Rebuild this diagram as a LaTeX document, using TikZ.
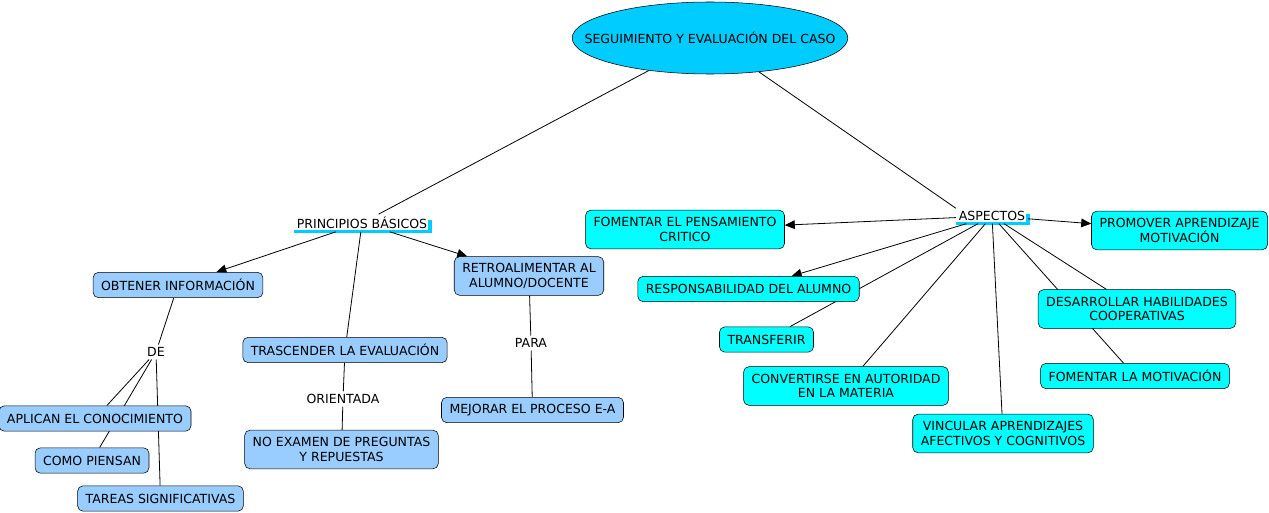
\documentclass[tikz,border=0pt]{standalone}
\usepackage{fontspec}
\setmainfont{DejaVu Sans}
\definecolor{cmaptop}{RGB}{0,204,255}
\definecolor{cmapblue}{RGB}{153,204,255}
\definecolor{cmapcyan}{RGB}{0,255,255}
\usetikzlibrary{arrows.meta,backgrounds,shapes.geometric}

\begin{document}
\begin{tikzpicture}[
    x=0.75pt, y=-0.75pt,
    >={Triangle[length=7.5pt,width=6.5pt]},
    % Define styles
    topic/.style={ellipse, draw=black, fill=cmaptop, inner xsep=-21pt, inner ysep=14.5pt, minimum width=202pt, minimum height=54pt},
    concept/.style={rectangle, draw=black, rounded corners=4pt, align=center, inner xsep=6pt, inner ysep=2pt, minimum height=19pt},
    leftbox/.style={concept, fill=cmapblue},
    rightbox/.style={concept, fill=cmapcyan},
    twoline/.style={minimum height=29pt},
    linkword/.style={inner sep=2pt},
    hilite/.style={draw=cmaptop, line width=2.5pt},
    conn/.style={draw=black, line width=0.6pt},
    arrow/.style={->, conn},
    % Font
    font=\fontsize{9.4}{11}\selectfont
]
\useasboundingbox (0,0) rectangle (1269,513);

% Main topic
\node[topic] (seg) at (710,38) {SEGUIMIENTO Y EVALUACIÓN DEL CASO};

% Linking phrases
\node[linkword] (princ) at (362,223) {PRINCIPIOS BÁSICOS};
\node[linkword] (aspectos) at (992,216) {ASPECTOS};
\node[linkword] (de) at (156,352) {DE};
\node[linkword] (orientada) at (343,399) {ORIENTADA};
\node[linkword] (para) at (531,343) {PARA};

% Left branch
\node[leftbox] (obtener) at (178,285) {OBTENER INFORMACIÓN};
\node[leftbox] (aplican) at (95,418.5) {APLICAN EL CONOCIMIENTO};
\node[leftbox] (como) at (92,460.5) {COMO PIENSAN};
\node[leftbox] (tareas) at (160.5,498.5) {TAREAS SIGNIFICATIVAS};
\node[leftbox] (trasc) at (345,350) {TRASCENDER LA EVALUACIÓN};
\node[leftbox, twoline] (noexam) at (341.5,449.5) {NO EXAMEN DE PREGUNTAS\\Y REPUESTAS};
\node[leftbox, twoline] (retro) at (529,276) {RETROALIMENTAR AL\\ALUMNO/DOCENTE};
\node[leftbox] (mejorar) at (532.5,410) {MEJORAR EL PROCESO E-A};

% Right branch
\node[rightbox, twoline] (pensam) at (685,229.5) {FOMENTAR EL PENSAMIENTO\\CRITICO};
\node[rightbox, twoline] (promover) at (1179.5,230.5) {PROMOVER APRENDIZAJE\\MOTIVACIÓN};
\node[rightbox] (respons) at (748.5,289) {RESPONSABILIDAD DEL ALUMNO};
\node[rightbox] (transf) at (766.5,339.5) {TRANSFERIR};
\node[rightbox, twoline] (convert) at (846,386) {CONVERTIRSE EN AUTORIDAD\\EN LA MATERIA};
\node[rightbox, twoline] (vincular) at (1003,433.5) {VINCULAR APRENDIZAJES\\AFECTIVOS Y COGNITIVOS};
\node[rightbox, twoline] (desarr) at (1137,309) {DESARROLLAR HABILIDADES\\COOPERATIVAS};
\node[rightbox] (fommotiv) at (1135,376) {FOMENTAR LA MOTIVACIÓN};

\begin{scope}[on background layer]
% Selection marks under the linking phrases
\draw[hilite] (princ.south west) -| ([yshift=-4pt]princ.north east);
\draw[hilite] (aspectos.south west) -| ([yshift=-4pt]aspectos.north east);

% Connections - from the topic
\draw[conn] (seg) -- (princ);
\draw[conn] (seg) -- (aspectos.north west);

% Connections - left branch
\draw[arrow] (princ) -- (obtener);
\draw[conn] (princ) -- (trasc);
\draw[arrow] (princ) -- (retro);
\draw[conn] (obtener) -- (de);
\draw[conn] (de) -- (aplican);
\draw[conn] (de) -- (como);
\draw[conn] (de) -- (tareas);
\draw[conn] (trasc) -- (orientada);
\draw[conn] (orientada) -- (noexam);
\draw[conn] (retro) -- (para);
\draw[conn] (para) -- (mejorar);

% Connections - right branch
\draw[arrow] (aspectos) -- (pensam);
\draw[arrow] (aspectos) -- (promover);
\draw[arrow] (aspectos) -- (respons);
\draw[conn] (aspectos) -- (transf);
\draw[conn] (aspectos) -- (convert);
\draw[conn] (aspectos) -- (vincular);
\draw[conn] (aspectos) -- (desarr);
\draw[conn] (aspectos) -- (fommotiv);
\end{scope}

\end{tikzpicture}
\end{document}
